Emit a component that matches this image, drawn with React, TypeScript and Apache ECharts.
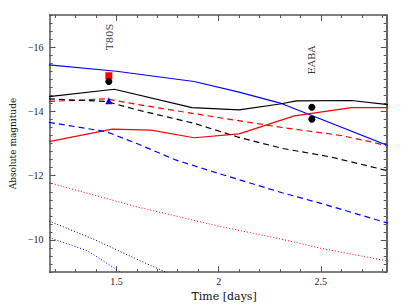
import React, { useEffect, useRef } from "react";
import * as echarts from "echarts";

const xMajor = [1.5, 2, 2.5];
const yMajor = [-16, -14, -12, -10];

const blueSolid = [[1.17, -15.45], [1.5, -15.25], [1.88, -14.93], [2.1, -14.6], [2.31, -14.24], [2.83, -12.93]];
const blackSolid = [[1.17, -14.46], [1.49, -14.69], [1.87, -14.12], [2.1, -14.05], [2.3, -14.23], [2.38, -14.33], [2.65, -14.34], [2.83, -14.21]];
const redSolid = [[1.17, -13.06], [1.48, -13.45], [1.67, -13.42], [1.88, -13.18], [2.1, -13.3], [2.37, -13.86], [2.65, -14.12], [2.83, -14.12]];
const redDashed = [[1.17, -14.31], [1.45, -14.39], [1.6, -14.22], [1.88, -13.93], [2.31, -13.5], [2.6, -13.25], [2.74, -13.06], [2.83, -12.92]];
const blackDashed = [[1.17, -14.39], [1.45, -14.31], [1.6, -14.05], [1.88, -13.63], [2.09, -13.21], [2.31, -12.85], [2.55, -12.58], [2.83, -12.15]];
const blueDashed = [[1.17, -13.66], [1.45, -13.37], [1.6, -13.0], [1.79, -12.49], [2.0, -12.07], [2.31, -11.47], [2.5, -11.14], [2.83, -10.52]];
const redDotted = [[1.17, -11.78], [1.36, -11.45], [1.6, -11.03], [2.0, -10.43], [2.31, -10.02], [2.5, -9.74], [2.83, -9.34]];
const blackDotted = [[1.17, -10.59], [1.39, -10.02], [1.6, -9.4], [1.74, -9.0], [1.8, -8.8]];
const blueDotted = [[1.17, -10.08], [1.36, -9.66], [1.52, -9.0], [1.6, -8.7]];

const t80sRed = [[1.463, -15.11]];
const t80sBlack = [[1.463, -14.93]];
const t80sBlue = [[1.463, -14.33]];
const eabaBlack = [[2.456, -14.13], [2.456, -13.76]];

const textLabels = [
  { name: "T80S", value: [1.465, -16.32] },
  { name: "EABA", value: [2.456, -15.6] },
];

const xMinor: number[] = [];
for (let k = 12; k <= 28; k++) if (k % 5 !== 0) xMinor.push(k / 10);
const yMinor: number[] = [];
for (let k = -68; k <= -36; k++) if (k % 8 !== 0) yMinor.push(k / 4);

const FONT = "Liberation Serif";
const WIDE = "DejaVu Serif";
const AX = "#555";

export default function App() {
  const ref = useRef<HTMLDivElement>(null);
  useEffect(() => {
    const chart = echarts.init(ref.current!, null, { renderer: "svg" });
    const xBase = { type: "value", min: 1.173, max: 2.822, splitLine: { show: false } };
    const yBase = { type: "value", min: -17, max: -9, inverse: true, splitLine: { show: false } };
    const fmt = (v: number) => (v < 0 ? "\u2212" + Math.abs(v) : String(v));
    const line = (data: number[][], color: string, type: any, width = 1.2) => ({
      type: "line",
      data,
      symbol: "none",
      clip: true,
      lineStyle: { color, type, width },
      xAxisIndex: 0,
      yAxisIndex: 0,
      z: 2,
    });
    const scat = (data: number[][], color: string, symbol: string, size = 7) => ({
      type: "scatter",
      data,
      symbol,
      symbolSize: size,
      itemStyle: { color, opacity: 1 },
      z: 5,
    });
    chart.setOption({
      animation: false,
      backgroundColor: "#fff",
      grid: { left: 42, right: 24.3, top: 15, bottom: 34.7, containLabel: false },
      xAxis: [
        {
          ...xBase,
          position: "bottom",
          name: "Time [days]",
          nameLocation: "middle",
          nameGap: 14,
          nameTextStyle: { fontFamily: WIDE, fontSize: 11, color: "#111", padding: [0, 0, 0, 12] },
          axisLine: { show: true, onZero: false, lineStyle: { color: AX, width: 1.5 } },
          axisTick: { show: true, inside: true, length: 6, customValues: xMajor, lineStyle: { color: AX } },
          axisLabel: { show: true, customValues: xMajor, margin: 4, fontFamily: FONT, fontSize: 10, color: "#222", formatter: fmt },
        },
        {
          ...xBase,
          position: "bottom",
          axisLine: { show: false },
          axisTick: { show: true, inside: true, length: 3, customValues: xMinor, lineStyle: { color: AX } },
          axisLabel: { show: false },
        },
        {
          ...xBase,
          position: "top",
          axisLine: { show: true, onZero: false, lineStyle: { color: AX, width: 1.5 } },
          axisTick: { show: true, inside: true, length: 6, customValues: xMajor, lineStyle: { color: AX } },
          axisLabel: { show: false },
        },
        {
          ...xBase,
          position: "top",
          axisLine: { show: false },
          axisTick: { show: true, inside: true, length: 3, customValues: xMinor, lineStyle: { color: AX } },
          axisLabel: { show: false },
        },
      ],
      yAxis: [
        {
          ...yBase,
          position: "left",
          name: "Absolute magnitude",
          nameLocation: "middle",
          nameGap: 31,
          nameTextStyle: { fontFamily: WIDE, fontSize: 9, color: "#111" },
          axisLine: { show: true, onZero: false, lineStyle: { color: AX, width: 1.5 } },
          axisTick: { show: true, inside: true, length: 6, customValues: yMajor, lineStyle: { color: AX } },
          axisLabel: { show: true, customValues: yMajor, margin: 6, fontFamily: FONT, fontSize: 10, color: "#222", formatter: fmt },
        },
        {
          ...yBase,
          position: "left",
          axisLine: { show: false },
          axisTick: { show: true, inside: true, length: 3, customValues: yMinor, lineStyle: { color: AX } },
          axisLabel: { show: false },
        },
        {
          ...yBase,
          position: "right",
          axisLine: { show: true, onZero: false, lineStyle: { color: "#333", width: 1.5 } },
          axisTick: { show: true, inside: true, length: 6, customValues: yMajor, lineStyle: { color: AX } },
          axisLabel: { show: false },
        },
        {
          ...yBase,
          position: "right",
          axisLine: { show: false },
          axisTick: { show: true, inside: true, length: 3, customValues: yMinor, lineStyle: { color: AX } },
          axisLabel: { show: false },
        },
      ],
      series: [
        line(blueSolid, "#0000ff", "solid"),
        line(blackSolid, "#000000", "solid"),
        line(redSolid, "#ff0000", "solid"),
        line(redDashed, "#ff0000", [6, 4]),
        line(blackDashed, "#000000", [6, 4]),
        line(blueDashed, "#0000ff", [6, 4]),
        line(redDotted, "#ff0000", [1, 2], 1),
        line(blackDotted, "#000000", [1, 2], 1),
        line(blueDotted, "#0000ff", [1, 2], 1),
        scat(t80sRed, "#ff0000", "rect", 7),
        scat(t80sBlack, "#000000", "circle", 7),
        scat(t80sBlue, "#0000ff", "triangle", 7),
        scat(eabaBlack, "#000000", "circle", 7),
        {
          type: "scatter",
          data: textLabels,
          symbolSize: 0,
          label: {
            show: true,
            position: "inside",
            rotate: 90,
            formatter: (p: any) => p.name,
            fontFamily: WIDE,
            fontSize: 10,
            color: "#000",
          },
          z: 6,
        },
      ],
    });
    return () => chart.dispose();
  }, []);
  return <div ref={ref} style={{ position: "fixed", left: 0, top: 0, width: 411, height: 307 }} />;
}
